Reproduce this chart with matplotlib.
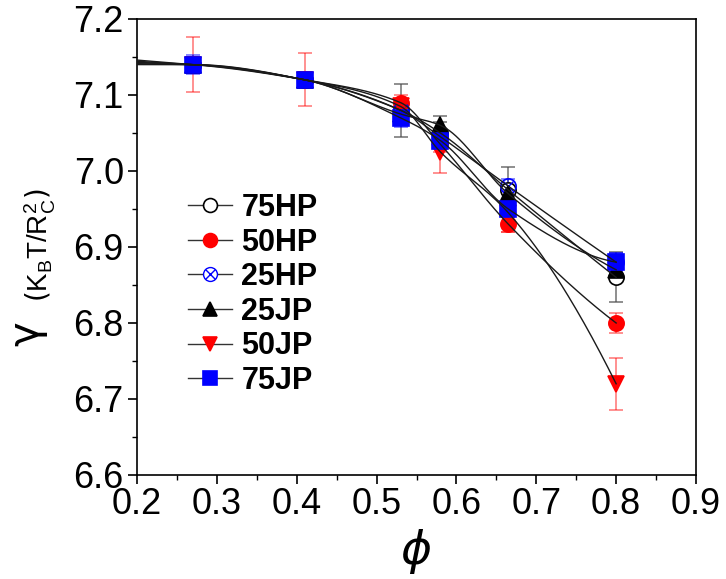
import numpy as np
import matplotlib
matplotlib.use("Agg")
import matplotlib.pyplot as plt
from matplotlib.lines import Line2D
from matplotlib.legend_handler import HandlerTuple
from matplotlib.ticker import MultipleLocator, FormatStrFormatter

plt.rcParams['font.family'] = ['Liberation Sans', 'DejaVu Sans']

phi = [0.27, 0.41, 0.53, 0.58, 0.665, 0.80]
labels = ["75HP", "50HP", "25HP", "25JP", "50JP", "75JP"]
g_75HP = [7.140, 7.120, 7.080, 7.050, 6.975, 6.860]
g_50HP = [7.140, 7.120, 7.090, 7.035, 6.930, 6.800]
g_25HP = [7.140, 7.120, 7.080, 7.045, 6.980, 6.880]
g_25JP = [7.140, 7.120, 7.075, 7.060, 6.970, 6.870]
g_50JP = [7.140, 7.120, 7.085, 7.025, 6.945, 6.720]
g_75JP = [7.140, 7.120, 7.070, 7.040, 6.950, 6.880]
e_75HP = [0.010, 0.010, 0.035, 0.015, 0.030, 0.033]
e_50HP = [0.010, 0.010, 0.010, 0.010, 0.010, 0.013]
e_25HP = [0.010, 0.010, 0.010, 0.010, 0.010, 0.012]
e_25JP = [0.010, 0.010, 0.010, 0.012, 0.010, 0.010]
e_50JP = [0.036, 0.035, 0.010, 0.028, 0.025, 0.034]
e_75JP = [0.012, 0.010, 0.012, 0.010, 0.010, 0.012]

series = [g_75HP, g_50HP, g_25HP, g_25JP, g_50JP, g_75JP]
errs = [e_75HP, e_50HP, e_25HP, e_25JP, e_50JP, e_75JP]
styles = [
    dict(marker='o', mfc='white', mec='black', ecolor=(0.3, 0.3, 0.3, 0.8)),
    dict(marker='o', mfc='red', mec='red', ecolor=(1, 0, 0, 0.55)),
    dict(marker='o', mfc='none', mec='blue', ecolor=(0, 0, 1, 0.6)),
    dict(marker='^', mfc='black', mec='black', ecolor=(0.3, 0.3, 0.3, 0.8)),
    dict(marker='v', mfc='red', mec='red', ecolor=(1, 0, 0, 0.55)),
    dict(marker='s', mfc='blue', mec='blue', ecolor=(0, 0, 1, 0.6)),
]


def pchip(x, y, xs):
    x = np.asarray(x, float)
    y = np.asarray(y, float)
    h = np.diff(x)
    d = np.diff(y) / h
    n = len(x)
    m = np.zeros(n)
    for k in range(1, n - 1):
        if d[k - 1] * d[k] > 0:
            w1 = 2 * h[k] + h[k - 1]
            w2 = h[k] + 2 * h[k - 1]
            m[k] = (w1 + w2) / (w1 / d[k - 1] + w2 / d[k])

    def endslope(h0, h1, d0, d1):
        s = ((2 * h0 + h1) * d0 - h0 * d1) / (h0 + h1)
        if np.sign(s) != np.sign(d0):
            s = 0.0
        elif np.sign(d0) != np.sign(d1) and abs(s) > abs(3 * d0):
            s = 3 * d0
        return s
    m[0] = endslope(h[0], h[1], d[0], d[1])
    m[-1] = endslope(h[-1], h[-2], d[-1], d[-2])
    out = np.empty_like(xs)
    for i, xv in enumerate(xs):
        if xv <= x[0]:
            out[i] = y[0] + m[0] * (xv - x[0])
            continue
        k = min(np.searchsorted(x, xv) - 1, n - 2)
        t = (xv - x[k]) / h[k]
        h00 = 2 * t**3 - 3 * t**2 + 1
        h10 = t**3 - 2 * t**2 + t
        h01 = -2 * t**3 + 3 * t**2
        h11 = t**3 - t**2
        out[i] = h00 * y[k] + h10 * h[k] * m[k] + h01 * y[k + 1] + h11 * h[k] * m[k + 1]
    return out


fig = plt.figure(figsize=(7.26, 5.79), dpi=100)
ax = fig.add_axes([137 / 726, 1 - 475 / 579, 559 / 726, 456 / 579])

xs = np.linspace(0.2, 0.8, 300)
for ys in series:
    ax.plot(xs, pchip(phi, ys, xs), color='#1a1a1a', lw=1.0, zorder=5)

handles = []
for ys, es, st, lab in zip(series, errs, styles, labels):
    ax.errorbar(phi, ys, yerr=es, fmt='none', ecolor=st['ecolor'], elinewidth=1.1,
                capsize=5, capthick=1.1, zorder=3)
    ax.plot(phi, ys, ls='none', marker=st['marker'], ms=11, mfc=st['mfc'],
            mec=st['mec'], mew=1.2, zorder=4)
    if lab == "25HP":
        ax.plot(phi, ys, ls='none', marker='x', ms=7, mec='blue', mew=1.0, zorder=4)
        h = (Line2D([], [], color='#333333', lw=1, marker='o', ms=10, mfc='white',
                    mec='blue', mew=1.0),
             Line2D([], [], ls='none', marker='x', ms=7, mec='blue', mew=1.0))
    else:
        h = Line2D([], [], color='#333333', lw=1, marker=st['marker'], ms=10,
                   mfc=st['mfc'], mec=st['mec'], mew=1.2)
    handles.append(h)

ax.set_xlim(0.2, 0.9)
ax.set_ylim(6.6, 7.2)
ax.xaxis.set_major_locator(MultipleLocator(0.1))
ax.xaxis.set_minor_locator(MultipleLocator(0.05))
ax.yaxis.set_major_locator(MultipleLocator(0.1))
ax.yaxis.set_minor_locator(MultipleLocator(0.05))
ax.xaxis.set_major_formatter(FormatStrFormatter('%.1f'))
ax.yaxis.set_major_formatter(FormatStrFormatter('%.1f'))
ax.tick_params(which='major', direction='out', length=6.5, width=1.2, labelsize=26)
ax.tick_params(axis='x', which='major', pad=2)
ax.tick_params(axis='y', which='major', pad=3)
ax.tick_params(which='minor', direction='out', length=3.6, width=1.0)
for s in ax.spines.values():
    s.set_linewidth(1.2)

leg = fig.legend(handles, labels, loc='upper left',
                 bbox_to_anchor=(188 / 726, 1 - 193 / 579),
                 bbox_transform=fig.transFigure, borderpad=0, borderaxespad=0,
                 frameon=False, handlelength=1.45, handletextpad=0.3, labelspacing=0.15,
                 prop=dict(weight='bold', size=22),
                 handler_map={tuple: HandlerTuple(ndivide=1, pad=0)})

fig.text(26 / 726, 1 - 334 / 579, 'γ', rotation=90, fontsize=30, ha='center',
         va='center', family='DejaVu Sans')
fig.text(40 / 726, 1 - 245 / 579, r'$(\mathregular{K_BT/R_C^2})$', rotation=90,
         fontsize=20, ha='center', va='center')
fig.text(416 / 726, 1 - 551 / 579, r'$\phi$', fontsize=34, ha='center', va='center',
         family='DejaVu Serif')

fig.savefig('out.png', dpi=100)
